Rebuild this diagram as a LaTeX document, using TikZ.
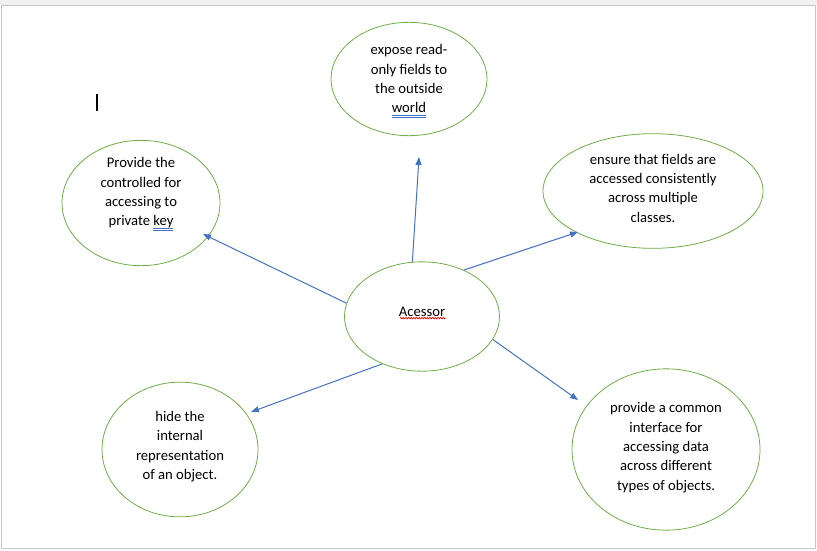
\documentclass[tikz,border=0pt]{standalone}
\usepackage{fontspec}
\setmainfont{Carlito}
\usepackage{xcolor}
\usepackage{tikz}
\usetikzlibrary{shapes.geometric,arrows.meta,decorations.pathmorphing}
\definecolor{ovalgreen}{HTML}{70AD47}
\definecolor{arrowblue}{HTML}{4472C4}
\newsavebox{\wordbox}
\newcommand{\gramline}[1]{\sbox{\wordbox}{#1}\leavevmode
  \rlap{\color{arrowblue}\rule[-2pt]{\wd\wordbox}{0.45pt}}%
  \rlap{\color{arrowblue}\rule[-3.2pt]{\wd\wordbox}{0.45pt}}\usebox{\wordbox}}
\tikzset{
  idea/.style = {ellipse, draw=ovalgreen, line width=0.6pt, inner sep=0pt},
  words/.style = {align=center, inner sep=0pt, font=\fontsize{11}{14.5}\selectfont},
  link/.style = {draw=arrowblue, line width=0.75pt, -{Triangle[length=6pt,width=4.5pt]}},
  spell/.style = {draw=red, line width=0.5pt, decorate, decoration={zigzag, segment length=2pt, amplitude=0.6pt}}
}

\begin{document}
\begin{tikzpicture}[x=0.75pt,y=-0.75pt]
   		\useasboundingbox (0,0) rectangle (817,550);
   		\fill[gray!12] (0,0) rectangle (817,5); % window band
   		\draw[gray!45] (1.5,5.5) rectangle (815.5,548.5); % page frame
   		\draw[line width=0.9pt] (97,94) -- (97,111); % text cursor
   		\node[idea, minimum width=117pt, minimum height=85pt,
   		  label={[words, yshift=-1.5pt]center:{expose read-\\only fields to\\the outside\\\gramline{world}}}] (expose) at (409,79) {};
   		\node[idea, minimum width=118.5pt, minimum height=94pt,
   		  label={[words, yshift=6.75pt]center:{Provide the\\controlled for\\accessing to\\private \gramline{key}}}] (priv) at (141,203) {};
   		\node[idea, minimum width=165pt, minimum height=86pt,
   		  label={[words, yshift=2.25pt]center:{ensure that fields are\\accessed consistently\\across multiple\\classes.}}] (ensure) at (653,191) {};
   		\node[idea, minimum width=116.25pt, minimum height=82pt,
   		  label={[words, yshift=3.75pt]center:{Acessor}}] (acc) at (422,316.5) {};
   		\draw[spell] ([xshift=-16.5pt,yshift=-1.2pt]acc.center) -- ([xshift=17.5pt,yshift=-1.2pt]acc.center); % spelling mark
   		\node[idea, minimum width=117pt, minimum height=101pt,
   		  label={[words, yshift=2.25pt]center:{hide the\\internal\\representation\\of an object.}}] (hide) at (180,449.5) {};
   		\node[idea, minimum width=141pt, minimum height=121pt,
   		  label={[words, yshift=1.5pt]center:{provide a common\\interface for\\accessing data\\across different\\types of objects.}}] (common) at (666,449.5) {};
   		\coordinate (tipexpose) at (419,157); % arrow ends
   		\coordinate (tippriv) at (203,234);
   		\coordinate (tipensure) at (578,232);
   		\coordinate (tiphide) at (251,412);
   		\coordinate (tipcommon) at (578,400);
   		\draw[link] (acc.100) -- (tipexpose);
   		\draw[link] (acc.170) -- (tippriv);
   		\draw[link] (acc.48) -- (tipensure);
   		\draw[link] (acc.230) -- (tiphide);
   		\draw[link] (acc.-18) -- (tipcommon);
\end{tikzpicture}
\end{document}
